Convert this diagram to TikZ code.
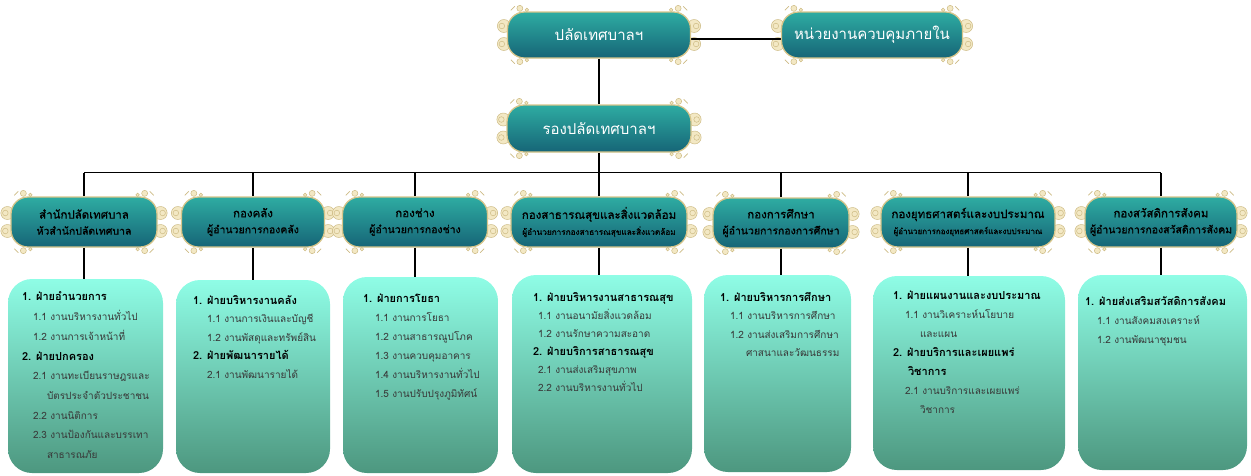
\documentclass[tikz,border=0pt]{standalone}
\usepackage{fontspec}
\newfontfamily\thaifont[Script=Thai]{Loma}
\newfontfamily\thaiheavy[Script=Thai,FakeBold=0.8]{Loma}
\usetikzlibrary{backgrounds}
\definecolor{ribtop}{HTML}{2EACA2}
\definecolor{ribbot}{HTML}{166577}
\definecolor{ribedge}{HTML}{D6C58A}
\definecolor{boxtop}{HTML}{8FFDE6}
\definecolor{boxbot}{HTML}{4D977F}
\definecolor{curlfill}{HTML}{F3E8C4}
\definecolor{curledge}{HTML}{CDBB84}
\newcommand{\hd}[1]{{\bfseries\fontsize{11}{14}\selectfont\color{black}#1}}
\newcommand{\itm}[2]{\hspace*{#1pt}#2}
\newcommand{\frill}[1]{%
  \foreach \sx/\side in {-1/west,1/east}{%
    \foreach \sy in {-1,1}{%
      \filldraw[curl] ([shift={(\sx*3,\sy*9)}]#1.\side) circle (6.5pt);
      \draw[curledge, line width=0.5pt] ([shift={(\sx*5,\sy*9)}]#1.\side) circle (2.8pt);
    }%
    \foreach \sy/\vert in {-1/north,1/south}{%
      \filldraw[curl] (#1.\vert -| #1.\side) ++(-\sx*13,\sy*3) circle (3pt);
      \filldraw[curl] (#1.\vert -| #1.\side) ++(-\sx*20,\sy*1.5) circle (1.8pt);
      \draw[curledge, line width=0.7pt] (#1.\vert -| #1.\side) ++(-\sx*4,\sy*1) -- ++(-\sx*4,\sy*4);
    }%
  }%
}
\tikzset{
  ribbon/.style={draw=ribedge, line width=1.3pt, rounded corners=17pt, top color=ribtop,
    bottom color=ribbot, align=center, inner sep=0pt},
  toprib/.style={ribbon, minimum width=183pt, minimum height=46pt, text=white,
    font=\thaifont\fontsize{15}{18}\selectfont},
  deptrib/.style={ribbon, minimum height=50pt, text=black,
    font=\thaiheavy\fontsize{10.5}{16}\selectfont},
  listbox/.style={rounded corners=24pt, top color=boxtop, bottom color=boxbot, inner sep=0pt},
  listtext/.style={anchor=north west, align=left, inner sep=0pt, text=black!78,
    font=\thaifont\fontsize{10}{#1}\selectfont},
  curl/.style={fill=curlfill, draw=curledge, line width=0.5pt},
  link/.style={line width=1.5pt, black},
}
\begin{document}
\begin{tikzpicture}[x=1pt,y=-1pt]
\useasboundingbox (0,0) rectangle (1251,475);

\node[toprib] (palad) at (599,35) {ปลัดเทศบาลฯ};
\node[toprib, minimum width=181pt] (audit) at (872,35) {หน่วยงานควบคุมภายใน};
\node[toprib, minimum width=184pt, minimum height=47pt] (rong) at (599,128.5) {รองปลัดเทศบาลฯ};

\node[deptrib, minimum width=146pt] (d1) at (84,222) {{\fontsize{11.5}{16}\selectfont สำนักปลัดเทศบาล}\\หัวสำนักปลัดเทศบาล};
\node[deptrib, minimum width=143pt] (d2) at (253,222) {{\fontsize{11.5}{16}\selectfont กองคลัง}\\ผู้อำนวยการกองคลัง};
\node[deptrib, minimum width=145pt] (d3) at (415,222) {{\fontsize{11.5}{16}\selectfont กองช่าง}\\ผู้อำนวยการกองช่าง};
\node[deptrib, minimum width=176pt] (d4) at (599,222) {{\fontsize{11.5}{16}\selectfont กองสาธารณสุขและสิ่งแวดล้อม}\\{\fontsize{8.2}{16}\selectfont ผู้อำนวยการกองสาธารณสุขและสิ่งแวดล้อม}};
\node[deptrib, minimum width=136pt] (d5) at (781,223) {{\fontsize{11.5}{16}\selectfont กองการศึกษา}\\ผู้อำนวยการกองการศึกษา};
\node[deptrib, minimum width=174pt] (d6) at (968,222) {{\fontsize{11.5}{16}\selectfont กองยุทธศาสตร์และงบประมาณ}\\{\fontsize{8}{16}\selectfont ผู้อำนวยการกองยุทธศาสตร์และงบประมาณ}};
\node[deptrib, minimum width=152pt] (d7) at (1161,222) {{\fontsize{11.5}{16}\selectfont กองสวัสดิการสังคม}\\ผู้อำนวยการกองสวัสดิการสังคม};

\node[listbox, minimum width=155pt, minimum height=194pt] (b1) at (85.5,376) {};
\node[listbox, minimum width=154pt, minimum height=193pt] (b2) at (253,376.5) {};
\node[listbox, minimum width=155pt, minimum height=196pt] (b3) at (420.5,375) {};
\node[listbox, minimum width=180pt, minimum height=198pt] (b4) at (602,374) {};
\node[listbox, minimum width=147pt, minimum height=197pt] (b5) at (777.5,373.5) {};
\node[listbox, minimum width=192pt, minimum height=194pt] (b6) at (969,373) {};
\node[listbox, minimum width=169pt, minimum height=195pt] (b7) at (1162.5,372.5) {};

\node[listtext=19.7] (t1) at ([shift={(14,13)}]b1.north west) {\hd{1. ฝ่ายอำนวยการ}\\
\itm{11}{1.1 งานบริหารงานทั่วไป}\\
\itm{11}{1.2 งานการเจ้าหน้าที่}\\
\hd{2. ฝ่ายปกครอง}\\
\itm{11}{2.1 งานทะเบียนราษฎรและ}\\
\itm{25}{บัตรประจำตัวประชาชน}\\
\itm{11}{2.2 งานนิติการ}\\
\itm{11}{2.3 งานป้องกันและบรรเทา}\\
\itm{25}{สาธารณภัย}};
\node[listtext=18.5] (t2) at ([shift={(17,15)}]b2.north west) {\hd{1. ฝ่ายบริหารงานคลัง}\\
\itm{14}{1.1 งานการเงินและบัญชี}\\
\itm{14}{1.2 งานพัสดุและทรัพย์สิน}\\
\hd{2. ฝ่ายพัฒนารายได้}\\
\itm{14}{2.1 งานพัฒนารายได้}};
\node[listtext=19] (t3) at ([shift={(20,17)}]b3.north west) {\hd{1. ฝ่ายการโยธา}\\
\itm{12}{1.1 งานการโยธา}\\
\itm{12}{1.2 งานสาธารณูปโภค}\\
\itm{12}{1.3 งานควบคุมอาคาร}\\
\itm{12}{1.4 งานบริหารงานทั่วไป}\\
\itm{12}{1.5 งานปรับปรุงภูมิทัศน์}};
\node[listtext=18] (t4) at ([shift={(21,17)}]b4.north west) {\hd{1. ฝ่ายบริหารงานสาธารณสุข}\\
\itm{5}{1.1 งานอนามัยสิ่งแวดล้อม}\\
\itm{5}{1.2 งานรักษาความสะอาด}\\
\hd{2. ฝ่ายบริการสาธารณสุข}\\
\itm{5}{2.1 งานส่งเสริมสุขภาพ}\\
\itm{5}{2.2 งานบริหารงานทั่วไป}};
\node[listtext=18.5] (t5) at ([shift={(16,17)}]b5.north west) {\hd{1. ฝ่ายบริหารการศึกษา}\\
\itm{10}{1.1 งานบริหารการศึกษา}\\
\itm{10}{1.2 งานส่งเสริมการศึกษา}\\
\itm{26}{ศาสนาและวัฒนธรรม}};
\node[listtext=19] (t6) at ([shift={(20,15)}]b6.north west) {\hd{1. ฝ่ายแผนงานและงบประมาณ}\\
\itm{12}{1.1 งานวิเคราะห์นโยบาย}\\
\itm{27}{และแผน}\\
\hd{2. ฝ่ายบริการและเผยแพร่}\\
\itm{15}{\hd{วิชาการ}}\\
\itm{12}{2.1 งานบริการและเผยแพร่}\\
\itm{27}{วิชาการ}};
\node[listtext=19] (t7) at ([shift={(7,21)}]b7.north west) {\hd{1. ฝ่ายส่งเสริมสวัสดิการสังคม}\\
\itm{12}{1.1 งานสังคมสงเคราะห์}\\
\itm{12}{1.2 งานพัฒนาชุมชน}};

\begin{scope}[on background layer]
\foreach \n in {palad,audit,rong,d1,d2,d3,d4,d5,d6,d7} {\frill{\n}}
\coordinate (bus) at ([yshift=-20pt]rong.south);
\draw[link] ([yshift=-4pt]palad.east) -- ([yshift=-4pt]audit.west);
\draw[link] (palad.south) -- (rong.north);
\draw[link] (rong.south) -- (bus);
\draw[link] (d1.north |- bus) -- (d7.north |- bus);
\foreach \d in {d1,d2,d3,d4,d5,d6,d7} {\draw[link] (\d.north) -- (\d.north |- bus);}
\foreach \d/\b in {d1/b1,d2/b2,d3/b3,d4/b4,d5/b5,d6/b6,d7/b7} {\draw[link] (\d.south) -- (\d.south |- \b.north);}
\end{scope}
\end{tikzpicture}
\end{document}
